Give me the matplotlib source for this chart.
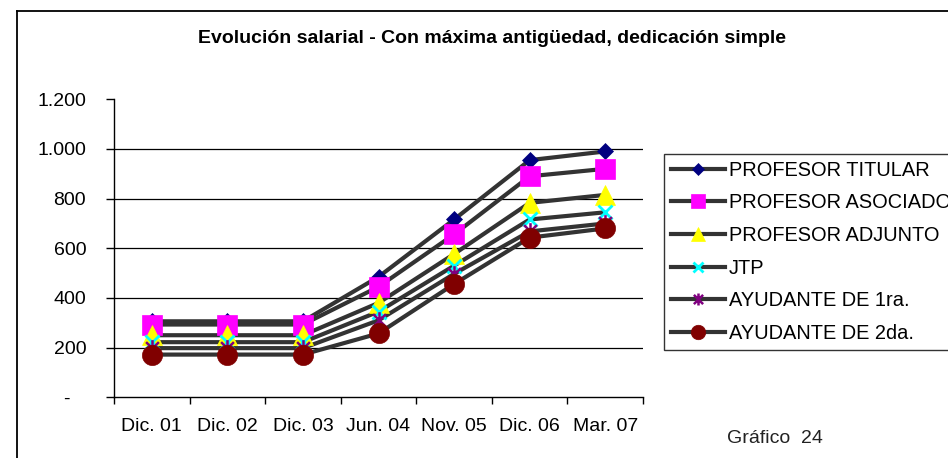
import numpy as np
import matplotlib
matplotlib.use("Agg")
import matplotlib.pyplot as plt
from matplotlib.lines import Line2D
from matplotlib.path import Path

plt.rcParams['font.family'] = ['Liberation Sans', 'DejaVu Sans']

categories = ["Dic. 01", "Dic. 02", "Dic. 03", "Jun. 04", "Nov. 05", "Dic. 06", "Mar. 07"]
titular = [306, 306, 306, 485, 716, 955, 990]
asociado = [293, 293, 293, 445, 656, 890, 920]
adjunto = [250, 250, 250, 380, 577, 783, 815]
jtp = [222, 222, 222, 345, 530, 716, 745]
ayudante1 = [198, 198, 198, 310, 497, 668, 700]
ayudante2 = [172, 172, 172, 257, 456, 643, 680]
names = ["PROFESOR TITULAR", "PROFESOR ASOCIADO", "PROFESOR ADJUNTO",
         "JTP", "AYUDANTE DE 1ra.", "AYUDANTE DE 2da."]
ytick_vals = [0, 200, 400, 600, 800, 1000, 1200]
ytick_labels = ["-   ", "200", "400", "600", "800", "1.000", "1.200"]

# asterisk marker like excel: x plus a vertical bar
star = Path([(-1, -1), (1, 1), (-1, 1), (1, -1), (0, -1.3), (0, 1.3)],
            [Path.MOVETO, Path.LINETO, Path.MOVETO, Path.LINETO, Path.MOVETO, Path.LINETO])

series = [titular, asociado, adjunto, jtp, ayudante1, ayudante2]
styles = [
    dict(marker="D", ms=8, mfc="#000080", mec="#000080", mew=0.5),
    dict(marker="s", ms=14, mfc="#FF00FF", mec="#FF00FF", mew=0.5),
    dict(marker="^", ms=14, mfc="#FFFF00", mec="#FFFF00", mew=0.5),
    dict(marker="x", ms=10, mfc="none", mec="#00FFFF", mew=2),
    dict(marker=star, ms=12, mfc="none", mec="#800080", mew=1.8),
    dict(marker="o", ms=14.5, mfc="#800000", mec="#800000", mew=0.5),
]
line_col = "#333333"
fs = 14

fig = plt.figure(figsize=(9.48, 4.58), dpi=100)
ax = fig.add_axes([114 / 948, 1 - 397.3 / 458, (643 - 114) / 948, (397.3 - 99.3) / 458])

x = np.arange(len(categories))
for vals in series:
    ax.plot(x, vals, color=line_col, lw=3.0, solid_capstyle="butt", zorder=2)
for vals, st in zip(series, styles):
    ax.plot(x, vals, ls="none", zorder=3, **st)

ax.set_xlim(-0.5, len(categories) - 0.5)
ax.set_ylim(0, 1200)
ax.set_yticks(ytick_vals)
ax.set_yticklabels(ytick_labels)
ax.set_xticks(np.arange(-0.5, len(categories) + 0.5, 1.0))
ax.set_xticklabels([])
ax.set_xticks(x, minor=True)
ax.set_xticklabels(categories, minor=True)
ax.tick_params(axis="x", which="major", direction="out", length=5, width=1)
ax.tick_params(axis="x", which="minor", length=0, pad=15, labelsize=fs)
ax.tick_params(axis="y", direction="out", length=6, width=1, pad=14, labelsize=fs)

ax.yaxis.grid(True, color="black", lw=0.9)
ax.set_axisbelow(True)
gl = ax.get_ygridlines()
gl[0].set_visible(False)
gl[-1].set_visible(False)
for s in ["top", "right"]:
    ax.spines[s].set_visible(False)
ax.spines["left"].set_linewidth(1)
ax.spines["bottom"].set_linewidth(1)

# legend
handles = []
for name, st in zip(names, styles):
    st2 = dict(st)
    st2["ms"] = st["ms"] * 0.72
    handles.append(Line2D([0], [0], color=line_col, lw=3.0, label=name, **st2))
leg = fig.legend(handles=handles, loc="upper left", bbox_to_anchor=(664 / 948, 1 - 154 / 458),
                 frameon=True, fancybox=False, fontsize=14.4, handlelength=2.7,
                 handletextpad=0.2, labelspacing=0.68, borderpad=0.34, borderaxespad=0)
leg.get_frame().set_edgecolor("black")
leg.get_frame().set_linewidth(1)

fig.text(492 / 948, 1 - 43 / 458, "Evolución salarial - Con máxima antigüedad, dedicación simple",
         ha="center", va="baseline", fontsize=fs, fontweight="bold")
fig.text(727 / 948, 1 - 443 / 458, "Gráfico  24", ha="left", va="baseline",
         fontsize=fs, color="#222222")

# outer frame (right and bottom edges fall outside the picture)
fig.add_artist(Line2D([17 / 948, 17 / 948], [0, 1 - 10.5 / 458], color="black", lw=1.3))
fig.add_artist(Line2D([17 / 948, 1], [1 - 10.5 / 458, 1 - 10.5 / 458], color="black", lw=1.3))

fig.savefig("out.png", dpi=100)
